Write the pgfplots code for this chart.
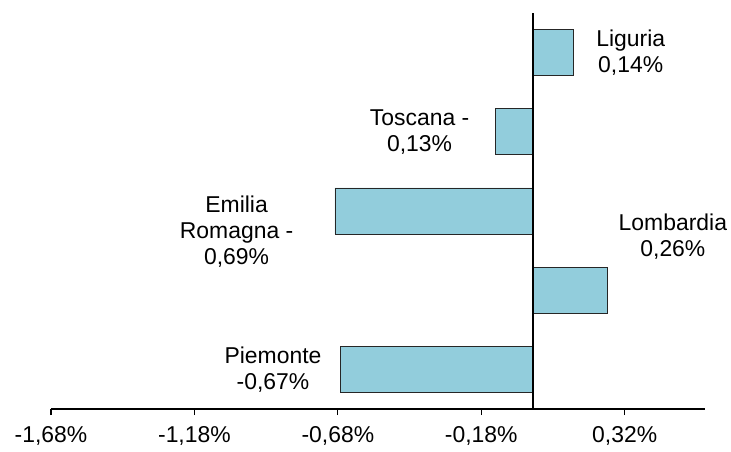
\documentclass[border=0pt]{standalone}
\usepackage{pgfplots}
\pgfplotsset{compat=1.18}
\usepackage{fontspec}
\setmainfont{Liberation Sans}
\definecolor{barblue}{RGB}{146,205,220}
\begin{document}
\begin{tikzpicture}
\begin{axis}[
  scale only axis,
  width=654bp, height=396bp,
  xmin=-1.68, xmax=0.6,
  ymin=-0.5, ymax=4.5,
  axis x line=bottom,
  axis y line=none,
  axis line style={-, line width=1.3bp},
  xtick={-1.68,-1.18,-0.68,-0.18,0.32},
  xticklabels={{-1,68\%},{-1,18\%},{-0,68\%},{-0,18\%},{0,32\%}},
  tick align=outside,
  major tick length=6bp,
  tick style={line width=1.3bp, black},
  ytick=\empty,
  xticklabel style={font=\fontsize{23}{26}\selectfont, yshift=-8bp},
  xbar, bar width=46bp,
  clip=false,
]
\addplot[fill=barblue, draw=black!85, line width=0.9bp] coordinates {
  (-0.67,0) (0.26,1) (-0.69,2) (-0.13,3) (0.14,4)
};
\draw[line width=1.3bp] (axis cs:0,-0.5) -- (axis cs:0,4.5);
\begin{scope}[every node/.style={align=center, font=\fontsize{23}{26}\selectfont}]
\node at (axis cs:0.341,4.0) {Liguria\\0,14\%};
\node at (axis cs:-0.395,3.0) {Toscana -\\0,13\%};
\node at (axis cs:-1.033,1.744) {Emilia\\Romagna -\\0,69\%};
\node at (axis cs:0.488,1.675) {Lombardia\\0,26\%};
\node at (axis cs:-0.906,0.0) {Piemonte\\-0,67\%};
\end{scope}
\end{axis}
\path (-51bp,-43bp) rectangle (680bp,409bp);
\end{tikzpicture}
\end{document}
